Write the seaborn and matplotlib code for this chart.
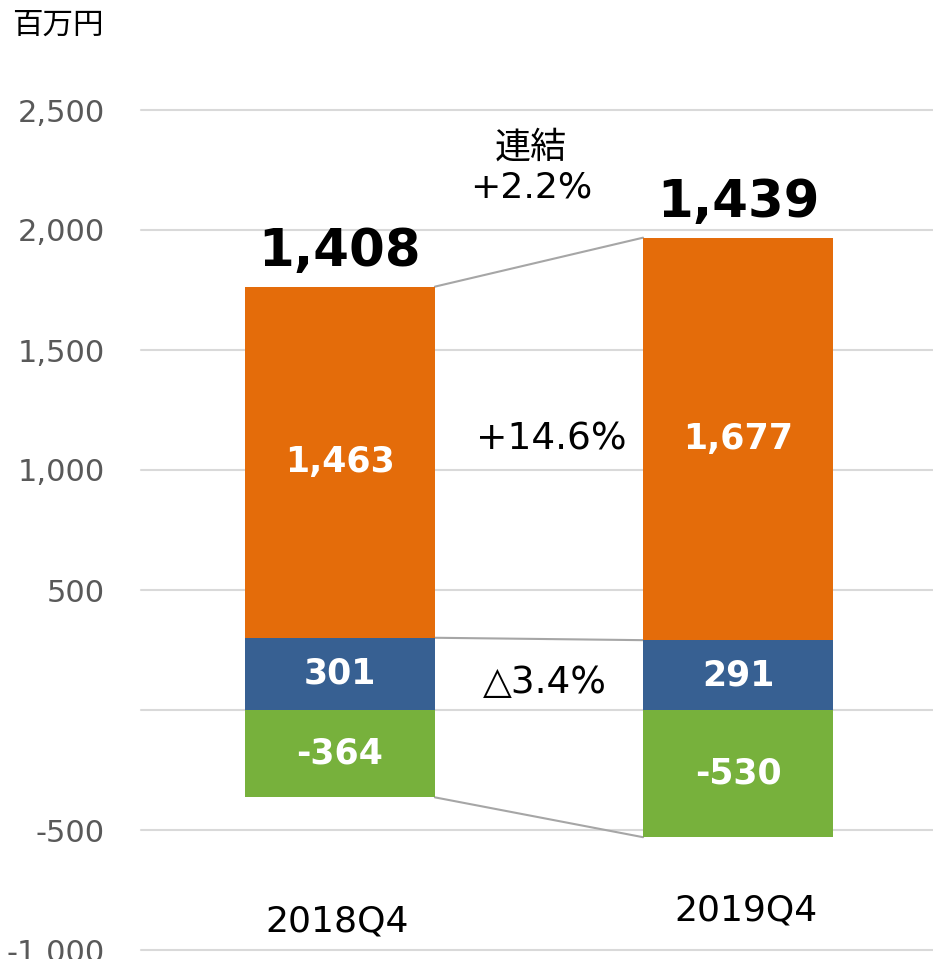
import matplotlib
matplotlib.use("Agg")
import matplotlib.pyplot as plt
import seaborn as sns
import pandas as pd

# ---- data ----
periods = ["2018Q4", "2019Q4"]
seg_orange = [1463, 1677]
seg_blue = [301, 291]
seg_green = [-364, -530]
totals = ["1,408", "1,439"]
orange_labels = ["1,463", "1,677"]
blue_labels = ["301", "291"]
green_labels = ["-364", "-530"]
change_total = "連結\n+2.2%"
change_orange = "+14.6%"
change_blue = "△3.4%"
unit_label = "百万円"
yticks = [-1000, -500, 0, 500, 1000, 1500, 2000, 2500]
ytick_labels = ["-1,000", "-500", "", "500", "1,000", "1,500", "2,000", "2,500"]

sns.set_theme(style="white")
plt.rcParams["font.family"] = ["DejaVu Sans", "Noto Sans CJK JP"]

c_orange = "#E46C0A"
c_blue = "#376092"
c_green = "#77B13C"

fig = plt.figure(figsize=(9.33, 9.59), dpi=100)
ax = fig.add_axes([141/933, 1-950/959, (933-141)/933, (950-110)/959])

df = pd.DataFrame({"period": periods, "orange": seg_orange, "blue": seg_blue, "green": seg_green})
W = 0.477
sns.barplot(data=df, x="period", y="blue", color=c_blue, width=W, ax=ax, saturation=1, zorder=3, linewidth=0)
sns.barplot(data=df, x="period", y="orange", bottom=df["blue"], color=c_orange, width=W, ax=ax, saturation=1, zorder=3, linewidth=0)
sns.barplot(data=df, x="period", y="green", color=c_green, width=W, ax=ax, saturation=1, zorder=3, linewidth=0)

ax.set_xlim(-0.5, 1.49)
ax.set_ylim(-1000, 2500)
ax.set_yticks(yticks)
ax.set_yticklabels(ytick_labels, fontsize=22, color="#595959")
ax.tick_params(axis="y", length=0, pad=26)
ax.set_xticks([])
ax.set_xlabel("")
ax.set_ylabel("")
for s in ax.spines.values():
    s.set_visible(False)
for t in yticks:
    ax.axhline(t, color="#D9D9D9", lw=1.5, zorder=1, clip_on=False)

# connectors
x0, x1 = 0 + W/2, 1 - W/2
top = [seg_blue[i] + seg_orange[i] for i in range(2)]
ax.plot([x0, x1], top, color="#A6A6A6", lw=1.5, zorder=2)
ax.plot([x0, x1], seg_blue, color="#A6A6A6", lw=1.5, zorder=2)
ax.plot([x0, x1], seg_green, color="#A6A6A6", lw=1.5, zorder=2)

# segment labels
for i in range(2):
    ax.text(i, seg_blue[i] + seg_orange[i]/2, orange_labels[i], ha="center", va="center",
            color="white", fontsize=25, fontweight="bold", zorder=4)
    ax.text(i, seg_blue[i]/2, blue_labels[i], ha="center", va="center",
            color="white", fontsize=25, fontweight="bold", zorder=4)
    ax.text(i, seg_green[i]/2, green_labels[i], ha="center", va="center",
            color="white", fontsize=25, fontweight="bold", zorder=4)
    ax.text(i, top[i] + 40, totals[i], ha="center", va="bottom",
            color="black", fontsize=37, fontweight="bold", zorder=4)

# change labels
ax.text(0.48, 2260, change_total, ha="center", va="center", fontsize=26, color="black", linespacing=1.25)
ax.text(0.53, 1125, change_orange, ha="center", va="center", fontsize=27, color="black")
ax.text(0.515, 113, change_blue, ha="center", va="center", fontsize=27, color="black")

# period labels
ax.text(-0.0075, -883, periods[0], ha="center", va="center", fontsize=26, color="black")
ax.text(1.02, -837, periods[1], ha="center", va="center", fontsize=26, color="black")

fig.text(58/933, 1-25/959, unit_label, ha="center", va="center", fontsize=22, color="black")

fig.savefig("out.png", dpi=100)
